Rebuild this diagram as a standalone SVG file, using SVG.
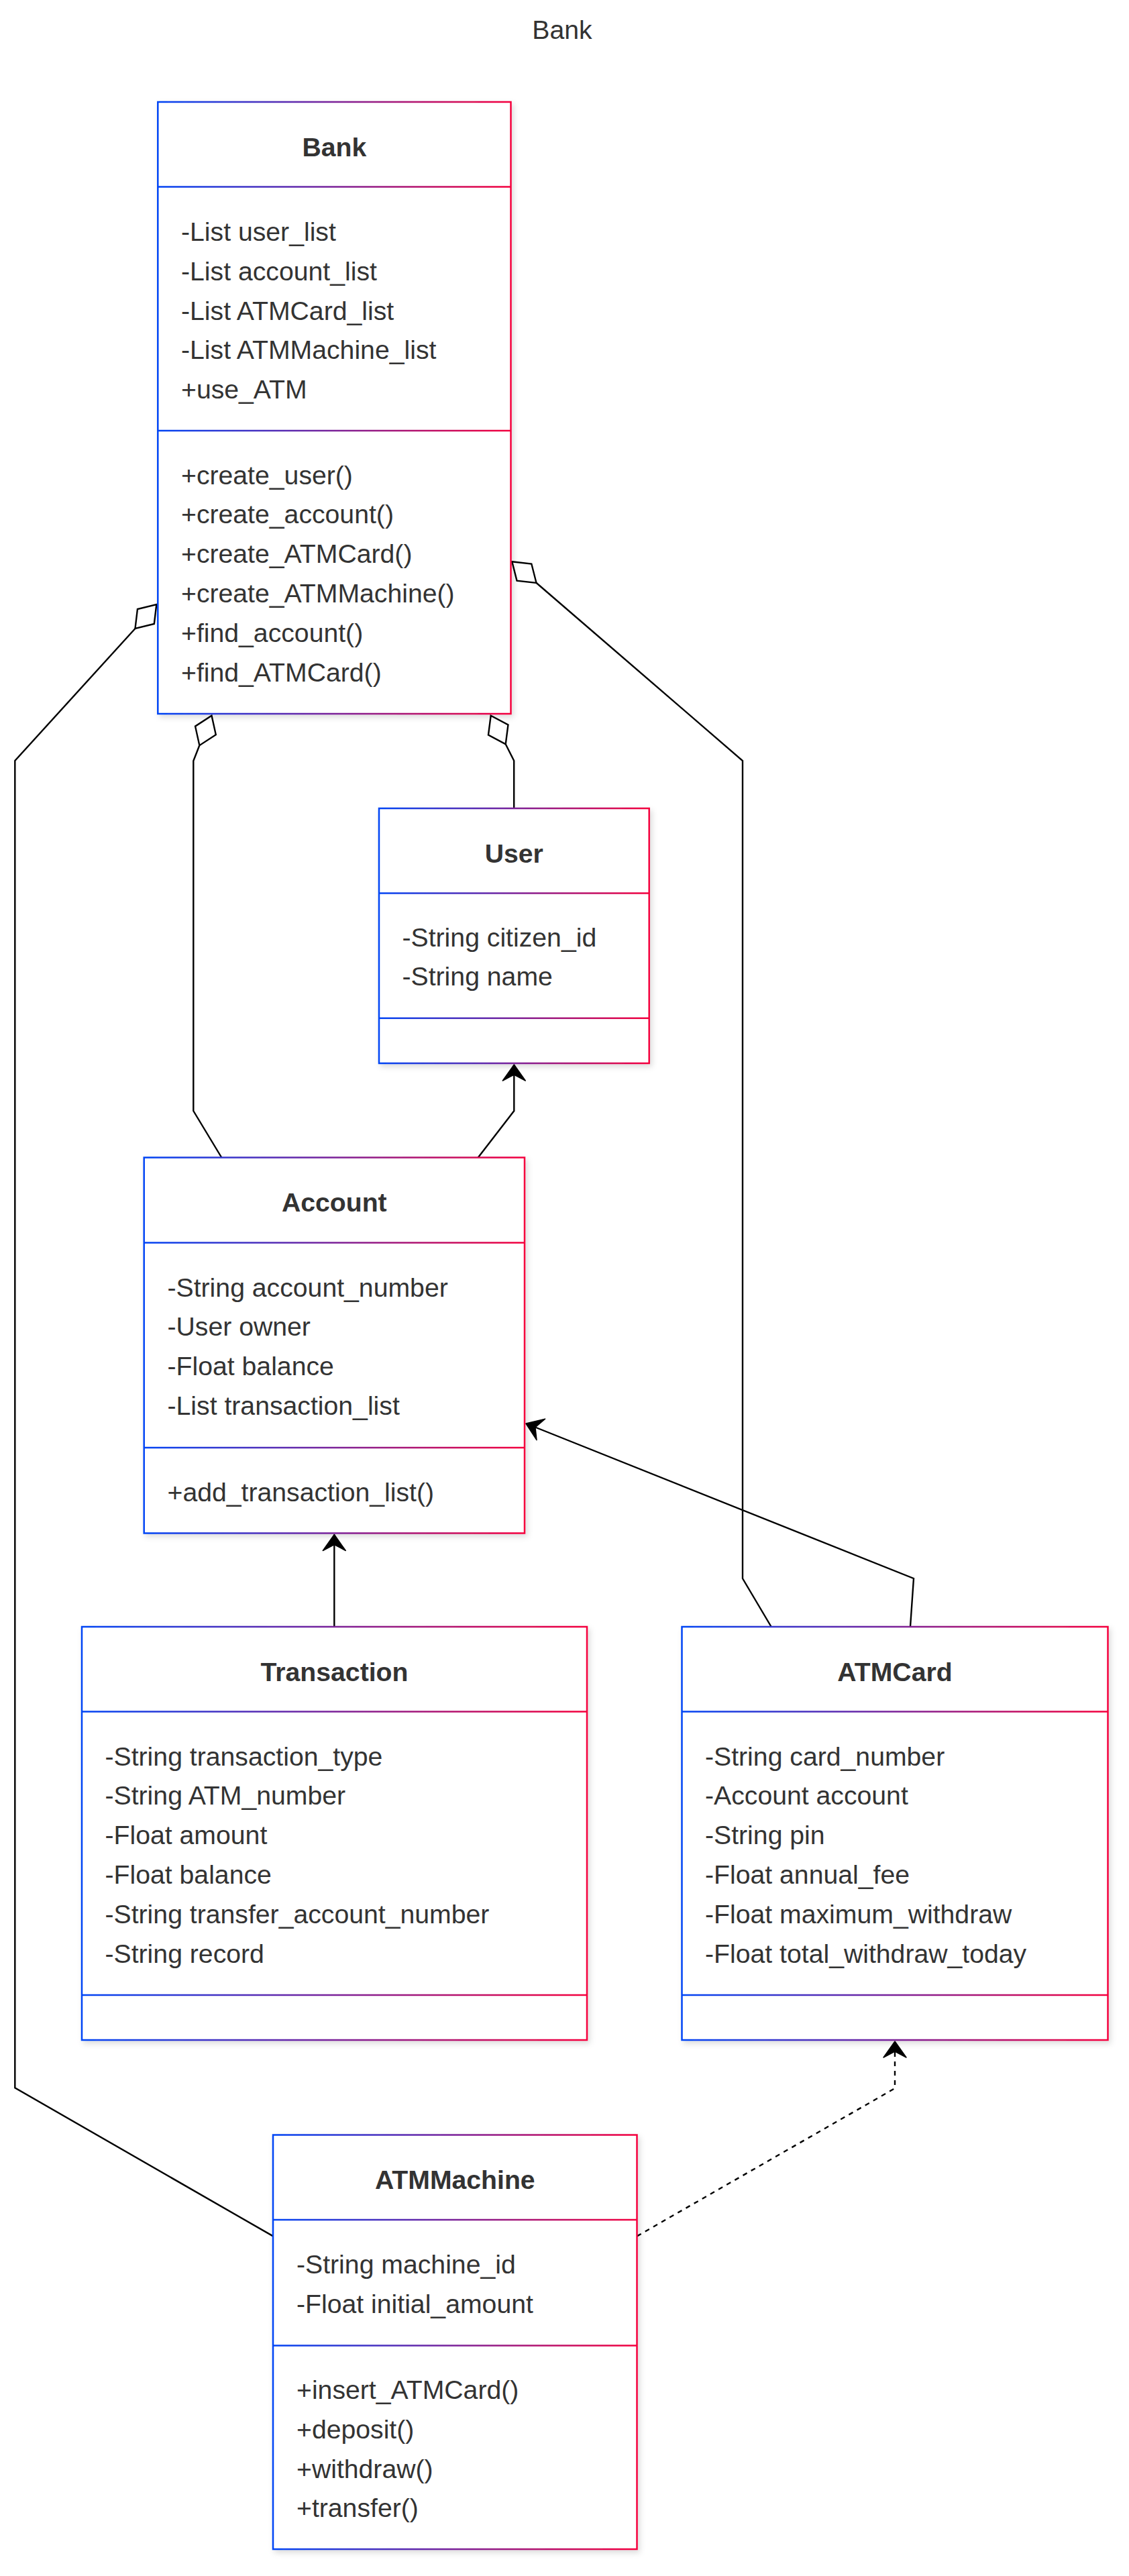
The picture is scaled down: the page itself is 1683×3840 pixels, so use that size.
<svg xmlns="http://www.w3.org/2000/svg" width="1683" height="3840" viewBox="0 0 1683 3840">
  <style>
    .box { fill: #ffffff; stroke: url(#grad); stroke-width: 2.5; }
    .div { fill: url(#grad); }
    .shadow { filter: url(#sh); }
    text { font-family: "Liberation Sans", Arial, sans-serif; font-size: 39.2px; fill: #333333; }
    .title { font-weight: bold; text-anchor: middle; }
    .edge { fill: none; stroke: #000000; stroke-width: 2.4; }
    .dashed { stroke-dasharray: 7 7; }
  </style>
  <defs>
    <linearGradient id="grad" x1="0" y1="0" x2="1" y2="0">
      <stop offset="0" stop-color="#0044f5"/>
      <stop offset="1" stop-color="#f5003d"/>
    </linearGradient>
    <filter id="sh" filterUnits="userSpaceOnUse" x="0" y="0" width="1683" height="3840">
      <feDropShadow dx="3" dy="4" stdDeviation="4" flood-color="#000000" flood-opacity="0.14"/>
    </filter>
    <marker id="diamond" markerUnits="userSpaceOnUse" viewBox="-4 -22 56 44" markerWidth="56" markerHeight="44" refX="0" refY="0" orient="auto">
      <path d="M0,0 L24,-16.6 L48,0 L24,16.6 Z" fill="#ffffff" stroke="#000000" stroke-width="2.4"/>
    </marker>
    <marker id="arrow" markerUnits="userSpaceOnUse" viewBox="-30 -20 34 40" markerWidth="34" markerHeight="40" refX="0" refY="0" orient="auto">
      <path d="M0,0 L-24,-17 L-15,0 L-24,17 Z" fill="#000000" stroke="#000000" stroke-width="1.5" stroke-linejoin="round"/>
    </marker>
  </defs>
  <rect x="0" y="0" width="1683" height="3840" fill="#ffffff"/>

  <text x="838" y="58" text-anchor="middle">Bank</text>

  <g id="connectors">
    <path class="edge" marker-start="url(#diamond)" d="M233.3,901 L201.7,936.7 L22.3,1134 L22.3,3112.4 L407,3333.4"/>
    <path class="edge" marker-start="url(#diamond)" d="M315.5,1066.7 L297.5,1110.8 L288.3,1134.3 L288.3,1656 L330.3,1725.5"/>
    <path class="edge" marker-start="url(#diamond)" d="M731.7,1066.7 L753.7,1109.3 L766.2,1134 L766.2,1205"/>
    <path class="edge" marker-start="url(#diamond)" d="M763.3,837.3 L799.7,869 L1107,1134 L1107,2353 L1149.4,2424.5"/>
    <path class="edge" marker-end="url(#arrow)" d="M712.7,1725.5 L766.3,1656 L766.3,1587"/>
    <path class="edge" marker-end="url(#arrow)" d="M1357,2424.5 L1362,2353 L784,2122"/>
    <path class="edge" marker-end="url(#arrow)" d="M498.3,2425 L498.3,2287.5"/>
    <path class="edge dashed" marker-end="url(#arrow)" d="M949.6,3333.4 L1334,3113 L1334,3043"/>
  </g>

  <g id="Bank">
    <rect class="box shadow" x="235.3" y="152" width="526.2" height="912"/>
    <rect class="div" x="235.3" y="277.25" width="526.2" height="2.5"/>
    <rect class="div" x="235.3" y="640.75" width="526.2" height="2.5"/>
    <text class="title" x="498.4" y="232.5">Bank</text>
    <text x="270" y="359">-List user_list</text>
    <text x="270" y="417.8">-List account_list</text>
    <text x="270" y="476.6">-List ATMCard_list</text>
    <text x="270" y="535.4">-List ATMMachine_list</text>
    <text x="270" y="594.2">+use_ATM</text>
    <text x="270" y="721.5">+create_user()</text>
    <text x="270" y="780.3">+create_account()</text>
    <text x="270" y="839.1">+create_ATMCard()</text>
    <text x="270" y="897.9">+create_ATMMachine()</text>
    <text x="270" y="956.7">+find_account()</text>
    <text x="270" y="1015.5">+find_ATMCard()</text>
  </g>

  <g id="User">
    <rect class="box shadow" x="565" y="1205" width="402.7" height="380"/>
    <rect class="div" x="565" y="1330.25" width="402.7" height="2.5"/>
    <rect class="div" x="565" y="1516.55" width="402.7" height="2.5"/>
    <text class="title" x="766.3" y="1285.5">User</text>
    <text x="599.5" y="1410.5">-String citizen_id</text>
    <text x="599.5" y="1469.3">-String name</text>
  </g>

  <g id="Account">
    <rect class="box shadow" x="214.7" y="1725.5" width="567.3" height="560"/>
    <rect class="div" x="214.7" y="1851.25" width="567.3" height="2.5"/>
    <rect class="div" x="214.7" y="2156.75" width="567.3" height="2.5"/>
    <text class="title" x="498.3" y="1806">Account</text>
    <text x="249.5" y="1932.5">-String account_number</text>
    <text x="249.5" y="1991.3">-User owner</text>
    <text x="249.5" y="2050.1">-Float balance</text>
    <text x="249.5" y="2108.9">-List transaction_list</text>
    <text x="249.5" y="2237.5">+add_transaction_list()</text>
  </g>

  <g id="Transaction">
    <rect class="box shadow" x="122" y="2425" width="753" height="616"/>
    <rect class="div" x="122" y="2550.25" width="753" height="2.5"/>
    <rect class="div" x="122" y="2972.75" width="753" height="2.5"/>
    <text class="title" x="498.5" y="2505.5">Transaction</text>
    <text x="156.5" y="2631.5">-String transaction_type</text>
    <text x="156.5" y="2690.3">-String ATM_number</text>
    <text x="156.5" y="2749.1">-Float amount</text>
    <text x="156.5" y="2807.9">-Float balance</text>
    <text x="156.5" y="2866.7">-String transfer_account_number</text>
    <text x="156.5" y="2925.5">-String record</text>
  </g>

  <g id="ATMCard">
    <rect class="box shadow" x="1016.5" y="2425" width="635" height="616"/>
    <rect class="div" x="1016.5" y="2550.25" width="635" height="2.5"/>
    <rect class="div" x="1016.5" y="2972.75" width="635" height="2.5"/>
    <text class="title" x="1334" y="2505.5">ATMCard</text>
    <text x="1051" y="2631.5">-String card_number</text>
    <text x="1051" y="2690.3">-Account account</text>
    <text x="1051" y="2749.1">-String pin</text>
    <text x="1051" y="2807.9">-Float annual_fee</text>
    <text x="1051" y="2866.7">-Float maximum_withdraw</text>
    <text x="1051" y="2925.5">-Float total_withdraw_today</text>
  </g>

  <g id="ATMMachine">
    <rect class="box shadow" x="407" y="3182.5" width="542.5" height="617.5"/>
    <rect class="div" x="407" y="3307.75" width="542.5" height="2.5"/>
    <rect class="div" x="407" y="3495.25" width="542.5" height="2.5"/>
    <text class="title" x="678.3" y="3263">ATMMachine</text>
    <text x="442" y="3389">-String machine_id</text>
    <text x="442" y="3447.8">-Float initial_amount</text>
    <text x="442" y="3576">+insert_ATMCard()</text>
    <text x="442" y="3634.8">+deposit()</text>
    <text x="442" y="3693.6">+withdraw()</text>
    <text x="442" y="3752.4">+transfer()</text>
  </g>
</svg>
